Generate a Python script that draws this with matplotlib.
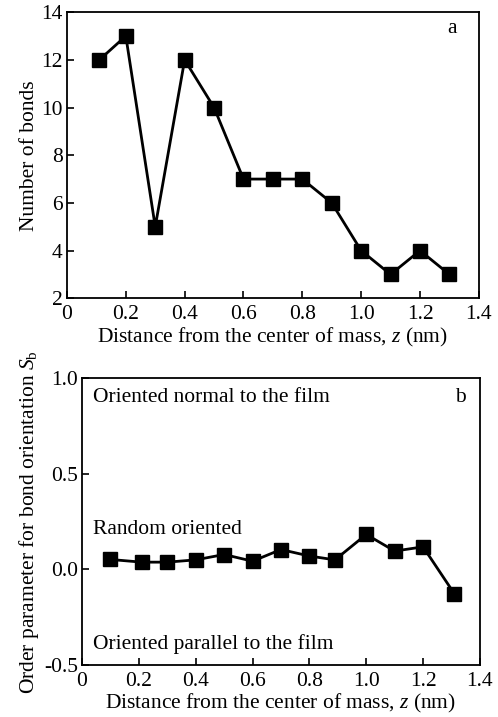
import matplotlib.pyplot as plt
import numpy as np

plt.rcParams["font.family"] = ["Liberation Serif", "DejaVu Serif"]
plt.rcParams["mathtext.fontset"] = "custom"
plt.rcParams["mathtext.rm"] = "Liberation Serif"
plt.rcParams["mathtext.it"] = "Liberation Serif:italic"

z_a = [0.11, 0.2, 0.3, 0.4, 0.5, 0.6, 0.7, 0.8, 0.9, 1.0, 1.1, 1.2, 1.3]
bonds = [12, 13, 5, 12, 10, 7, 7, 7, 6, 4, 3, 4, 3]

z_b = [0.1, 0.21, 0.3, 0.4, 0.5, 0.6, 0.7, 0.8, 0.89, 1.0, 1.1, 1.2, 1.31]
order = [0.052, 0.038, 0.038, 0.05, 0.078, 0.043, 0.104, 0.07, 0.05, 0.183, 0.096, 0.118, -0.127]

xticks = [0, 0.2, 0.4, 0.6, 0.8, 1.0, 1.2, 1.4]
xticklabels = ["0", "0.2", "0.4", "0.6", "0.8", "1.0", "1.2", "1.4"]
xlabel = "Distance from the center of mass, $z$ (nm)"

fs = 15.5

fig = plt.figure(figsize=(4.98, 7.17), dpi=100)
ax1 = fig.add_axes([0.1345, 0.584, 0.827, 0.399])
ax2 = fig.add_axes([0.1647, 0.0725, 0.799, 0.400])

style = dict(color="black", lw=2, marker="s", ms=9.5, mfc="black", mec="black")

ax1.plot(z_a, bonds, **style)
ax1.set_xlim(0, 1.4)
ax1.set_ylim(2, 14)
ax1.set_yticks([2, 4, 6, 8, 10, 12, 14])
ax1.set_ylabel("Number of bonds", fontsize=fs, labelpad=2)
ax1.text(1.31, 13.3, "a", fontsize=fs, ha="center", va="center")

ax2.plot(z_b, order, **style)
ax2.set_xlim(0, 1.4)
ax2.set_ylim(-0.5, 1.0)
ax2.set_yticks([-0.5, 0.0, 0.5, 1.0])
ax2.set_yticklabels(["-0.5", "0.0", "0.5", "1.0"])
ax2.set_ylabel("Order parameter for bond orientation $S_\\mathrm{b}$", fontsize=fs, labelpad=2)
ax2.text(0.04, 0.9, "Oriented normal to the film", fontsize=fs, va="center")
ax2.text(0.04, 0.21, "Random oriented", fontsize=fs, va="center")
ax2.text(0.04, -0.39, "Oriented parallel to the film", fontsize=fs, va="center")
ax2.text(1.33, 0.9, "b", fontsize=fs, ha="center", va="center")

for ax in (ax1, ax2):
    ax.set_xticks(xticks)
    ax.set_xticklabels(xticklabels)
    ax.set_xlabel(xlabel, fontsize=fs, labelpad=1)
    ax.tick_params(direction="in", length=5, width=1.2, labelsize=fs, pad=3)
    ax.tick_params(axis="x", pad=5)
    for s in ax.spines.values():
        s.set_linewidth(1.3)

fig.savefig("out.png", dpi=100)
